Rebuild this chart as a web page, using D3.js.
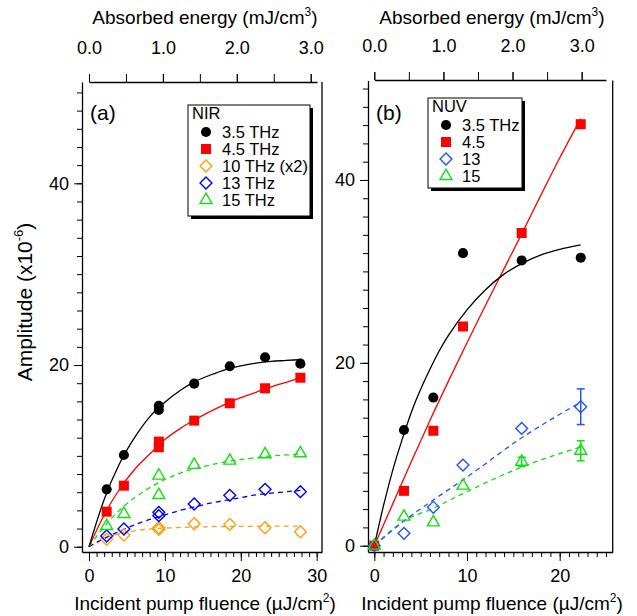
<!DOCTYPE html>
<html><head><meta charset="utf-8">
<script src="https://cdn.jsdelivr.net/npm/d3@7"></script>
<style>
html,body{margin:0;padding:0;background:#fff;}
text{font-family:"Liberation Sans",Arial,Helvetica,sans-serif;fill:#000;}
</style></head>
<body><svg id="c" width="637" height="616"></svg>
<script>
// ---------- data: panel (a) NIR ----------
const nirX      = [2.33, 4.6, 9.2, 9.2, 13.86, 18.55, 23.2, 27.85];
const nir35     = [6.32, 10.1, 15.5, 15.05, 17.95, 19.87, 20.86, 20.15];
const nir45     = [3.86, 6.72, 11.57, 10.95, 13.88, 15.79, 17.44, 18.6];
const nir10     = [0.81, 1.29, 2.09, 1.9, 2.53, 2.46, 2.09, 1.65];
const nir13     = [1.18, 1.95, 3.79, 3.42, 4.7, 5.66, 6.32, 6.06];
const nir15     = [2.28, 3.6, 7.82, 5.69, 9.0, 9.47, 10.17, 10.28];
const nirFitX   = [0, 2, 4, 6, 8, 10, 12, 14, 16, 18, 20, 22, 24, 26, 27.85];
const nirFit35  = [0, 5.2, 9.1, 12.0, 14.3, 15.9, 17.2, 18.2, 18.9, 19.5, 19.9, 20.2, 20.4, 20.5, 20.6];
const nirFit45  = [0, 3.5, 6.3, 8.5, 10.2, 11.8, 13.0, 14.0, 14.9, 15.7, 16.4, 17.0, 17.6, 18.1, 18.6];
const nirFit10  = [0, 0.9, 1.45, 1.75, 1.95, 2.05, 2.12, 2.17, 2.2, 2.22, 2.24, 2.25, 2.26, 2.27, 2.27];
const nirFit13  = [0, 0.9, 1.7, 2.4, 3.0, 3.5, 4.0, 4.4, 4.8, 5.1, 5.4, 5.7, 5.9, 6.05, 6.2];
const nirFit15  = [0, 2.2, 4.0, 5.4, 6.5, 7.4, 8.1, 8.6, 9.0, 9.35, 9.6, 9.8, 10.0, 10.1, 10.2];
const nirLegend = ["3.5 THz", "4.5 THz", "10 THz (x2)", "13 THz", "15 THz"];

// ---------- data: panel (b) NUV ----------
const nuvX      = [0, 3.2, 6.37, 9.57, 15.9, 22.27];
const nuv35     = [0, 12.65, 16.2, 32.0, 31.2, 31.5];
const nuv45     = [0, 6.0, 12.57, 23.98, 34.2, 46.1];
const nuv13     = [0, 1.35, 4.2, 8.82, 12.83, 15.2];
const nuv15     = [0, 3.17, 2.55, 6.56, 9.18, 10.38];
const nuv13Err  = [0, 0, 0, 0, 0, 1.95];
const nuv15Err  = [0, 0, 0, 0, 0.5, 1.1];
const nuvFit35X = [0, 1, 2, 3, 4, 5, 6, 7, 8, 10, 12, 14, 16, 18, 20, 22.27];
const nuvFit35  = [0, 4.4, 8.3, 11.6, 14.6, 17.1, 19.3, 21.3, 23.0, 25.8, 28.0, 29.7, 30.9, 31.8, 32.4, 32.9];
const nuvFit45X = [0, 2, 4, 6, 8, 10, 12, 14, 16, 18, 20, 22.27];
const nuvFit45  = [0, 4.6, 9.2, 13.7, 18.0, 22.2, 26.3, 30.3, 34.3, 38.4, 42.4, 46.7];
const nuvFit13  = [0, 2.7, 5.0, 7.2, 11.8, 15.7];
const nuvFit15  = [0, 2.7, 4.1, 5.7, 8.6, 10.8];
const nuvLegend = ["3.5 THz", "4.5", "13", "15"];

// ---------- tick labels ----------
const yTicks   = [0, 20, 40];
const xTicksA  = [0, 10, 20, 30];
const xTicksB  = [0, 10, 20];
const topTicks = [0, 1, 2, 3];

// ---------- colours ----------
const C = {black:"#000000", red:"#ff0000", orange:"#ffa00a", blueA:"#0000ff", blueB:"#1f55ff", green:"#11e011"};

const svg = d3.select("#c");
const FONT = 18;

// custom diamond symbol
const diamond = {draw(ctx, size){const r=Math.sqrt(size/2); ctx.moveTo(0,-r); ctx.lineTo(r,0); ctx.lineTo(0,r); ctx.lineTo(-r,0); ctx.closePath();}};
const SYM = {
  circle:  {type:d3.symbolCircle,   size:80,  fill:true},
  square:  {type:d3.symbolSquare,   size:100, fill:true},
  diamond: {type:diamond,           size:70,  fill:false},
  triangle:{type:d3.symbolTriangle, size:62,  fill:false}
};
function marker(g, kind, color, x, y){
  const s = SYM[kind];
  g.append("path").attr("d", d3.symbol().type(s.type).size(s.size)())
   .attr("transform", `translate(${x},${y})`)
   .attr("fill", s.fill ? color : "none")
   .attr("stroke", s.fill ? "none" : color)
   .attr("stroke-width", s.fill ? 0 : 1.4);
}

function panel(cfg){
  const g = svg.append("g");
  const x = d3.scaleLinear().domain(cfg.xDom).range(cfg.xRange);
  const y = d3.scaleLinear().domain(cfg.yDom).range(cfg.yRange);
  const t = d3.scaleLinear().domain(cfg.tDom).range(cfg.tRange);

  // left axis
  const la = g.append("g").attr("transform", `translate(${cfg.xRange[0]},0)`);
  la.call(d3.axisLeft(y).tickValues(d3.range(0, cfg.yDom[1], 2)).tickSize(5).tickSizeOuter(0).tickFormat(""));
  la.append("g").call(d3.axisLeft(y).tickValues(yTicks).tickSize(8).tickSizeOuter(0).tickPadding(5).tickFormat(d3.format("d")))
    .call(s=>s.select(".domain").remove());
  // bottom axis
  const ba = g.append("g").attr("transform", `translate(0,${cfg.yRange[0]})`);
  ba.call(d3.axisBottom(x).tickValues(d3.range(0, cfg.xDom[1], 1)).tickSize(5).tickSizeOuter(0).tickFormat(""));
  ba.append("g").call(d3.axisBottom(x).tickValues(cfg.xTicks).tickSize(9).tickSizeOuter(0).tickPadding(8).tickFormat(d3.format("d")))
    .call(s=>s.select(".domain").remove());
  // top axis
  const ta = g.append("g").attr("transform", `translate(0,${cfg.topY})`);
  ta.call(d3.axisTop(t).tickValues(d3.range(0, cfg.tDom[1]+0.001, 0.5)).tickSize(8).tickSizeOuter(0).tickFormat(""));
  ta.append("g").call(d3.axisTop(t).tickValues(topTicks).tickSize(8).tickSizeOuter(0).tickPadding(20).tickFormat(d3.format(".1f")))
    .call(s=>s.select(".domain").remove());
  // right frame
  g.append("line").attr("x1", cfg.xRange[1]).attr("x2", cfg.xRange[1])
   .attr("y1", cfg.yRange[1]).attr("y2", cfg.yRange[0]).attr("stroke", "#000").attr("stroke-width", 1.3);
  g.selectAll(".domain").attr("stroke-width", 1.3);
  g.selectAll(".tick line").attr("stroke-width", 1);
  g.selectAll(".tick text").style("font-size", FONT + "px").style("font-family", '"Liberation Sans",Arial,sans-serif');

  // titles
  const tt = g.append("text").attr("x", cfg.titleX).attr("y", 24).attr("text-anchor", "middle").style("font-size", "19px");
  tt.append("tspan").text("Absorbed energy (mJ/cm");
  tt.append("tspan").attr("dy", -8).style("font-size", "12px").text("3");
  tt.append("tspan").attr("dy", 8).text(")");
  const bt = g.append("text").attr("x", cfg.titleX).attr("y", 610).attr("text-anchor", "middle").style("font-size", "19px");
  bt.append("tspan").text("Incident pump fluence (\u00b5J/cm");
  bt.append("tspan").attr("dy", -8).style("font-size", "12px").text("2");
  bt.append("tspan").attr("dy", 8).text(")");

  g.append("text").attr("x", cfg.xRange[0] + 8).attr("y", 120).style("font-size", "21px").text(cfg.tag);

  // fits
  cfg.fits.forEach(f => {
    const line = d3.line().x((d,i)=>x(f.x[i])).y(d=>y(d)).curve(d3.curveMonotoneX);
    g.append("path").attr("d", line(f.y)).attr("fill", "none").attr("stroke", f.color)
     .attr("stroke-width", 1.3).attr("stroke-dasharray", f.dash ? "5,4" : null);
  });
  // error bars
  cfg.series.forEach(s => {
    if (!s.err) return;
    s.y.forEach((v,i) => {
      const e = s.err[i]; if (!e) return;
      const xx = x(cfg.px[i]);
      g.append("line").attr("x1", xx).attr("x2", xx).attr("y1", y(v - e)).attr("y2", y(v + e)).attr("stroke", s.color).attr("stroke-width", 1.5);
      [v - e, v + e].forEach(w => g.append("line").attr("x1", xx - 4).attr("x2", xx + 4).attr("y1", y(w)).attr("y2", y(w)).attr("stroke", s.color).attr("stroke-width", 1.5));
    });
  });
  // markers
  cfg.series.forEach(s => s.y.forEach((v,i) => marker(g, s.kind, s.color, x(cfg.px[i]), y(v))));

  // legend
  const L = cfg.legend;
  const lg = g.append("g");
  lg.append("rect").attr("x", L.x + 3).attr("y", L.y + 3).attr("width", L.w).attr("height", L.h).attr("fill", "#000");
  lg.append("rect").attr("x", L.x).attr("y", L.y).attr("width", L.w).attr("height", L.h).attr("fill", "#fff").attr("stroke", "#000").attr("stroke-width", 1);
  lg.append("text").attr("x", L.x + 4).attr("y", L.y + 14).style("font-size", "16.5px").text(L.title);
  cfg.series.forEach((s,i) => {
    const yy = L.y + 27 + i * L.step;
    marker(lg, s.kind, s.color, L.x + L.symX, yy);
    lg.append("text").attr("x", L.x + L.textX).attr("y", yy + 6).style("font-size", "16.5px").text(L.labels[i]);
  });
}

// ---------- panel (a) ----------
panel({
  tag:"(a)", titleX:205,
  xDom:[-0.92, 30.7], xRange:[82, 322],
  yDom:[-0.58, 51.15], yRange:[552, 82],
  tDom:[0, 3.085], tRange:[89, 317], topY:82,
  xTicks:xTicksA, px:nirX,
  series:[
    {y:nir35, kind:"circle",  color:C.black},
    {y:nir45, kind:"square",  color:C.red},
    {y:nir10, kind:"diamond", color:C.orange},
    {y:nir13, kind:"diamond", color:C.blueA},
    {y:nir15, kind:"triangle",color:C.green}
  ],
  fits:[
    {x:nirFitX, y:nirFit10, color:C.orange, dash:true},
    {x:nirFitX, y:nirFit13, color:C.blueA,  dash:true},
    {x:nirFitX, y:nirFit15, color:C.green,  dash:true},
    {x:nirFitX, y:nirFit45, color:C.red,    dash:false},
    {x:nirFitX, y:nirFit35, color:C.black,  dash:false}
  ],
  legend:{x:188, y:105, w:122, h:111, step:17, symX:18, textX:34, title:"NIR", labels:nirLegend}
});

// ---------- panel (b) ----------
panel({
  tag:"(b)", titleX:492,
  xDom:[-0.68, 25.72], xRange:[368, 612.7],
  yDom:[-0.69, 50.88], yRange:[552, 80.5],
  tDom:[0, 3.352], tRange:[374.3, 606], topY:80,
  xTicks:xTicksB, px:nuvX,
  series:[
    {y:nuv35, kind:"circle",  color:C.black},
    {y:nuv45, kind:"square",  color:C.red},
    {y:nuv13, kind:"diamond", color:C.blueB, err:nuv13Err},
    {y:nuv15, kind:"triangle",color:C.green, err:nuv15Err}
  ],
  fits:[
    {x:nuvX,      y:nuvFit15, color:C.green, dash:true},
    {x:nuvX,      y:nuvFit13, color:C.blueB, dash:true},
    {x:nuvFit45X, y:nuvFit45, color:C.red,   dash:false},
    {x:nuvFit35X, y:nuvFit35, color:C.black, dash:false}
  ],
  legend:{x:428, y:98, w:94, h:90, step:17, symX:18, textX:34, title:"NUV", labels:nuvLegend}
});

// y axis title
const yt = svg.append("text").attr("transform", "translate(32,302) rotate(-90)").attr("text-anchor", "middle").style("font-size", "21px");
yt.append("tspan").text("Amplitude (x10");
yt.append("tspan").attr("dy", -9).style("font-size", "13px").text("-6");
yt.append("tspan").attr("dy", 9).text(")");
</script></body></html>
